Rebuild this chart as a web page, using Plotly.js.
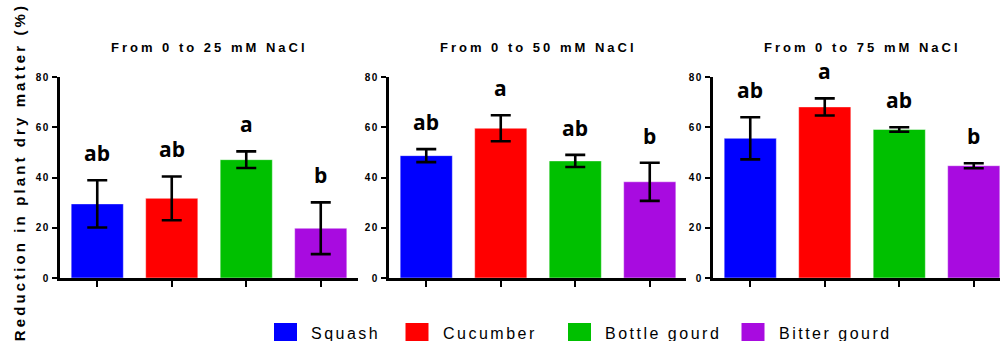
<!DOCTYPE html>
<html>
<head>
<meta charset="utf-8">
<script src="https://cdn.plot.ly/plotly-3.0.1.min.js"></script>
<style>
  html, body { margin: 0; padding: 0; background: #fff; }
  #chart { width: 1000px; height: 341px; }
  .yaxislayer-above text { letter-spacing: 1.6px; font-weight: bold !important; }
</style>
</head>
<body>
<div id="chart"></div>
<script>
// Crops and their colours
const categories = ['Squash', 'Cucumber', 'Bottle gourd', 'Bitter gourd'];
const barColors = ['#0000FF', '#FF0000', '#00C000', '#A80BE0'];

// Panel headings
const panelTitles = ['From 0 to 25 mM NaCl', 'From 0 to 50 mM NaCl', 'From 0 to 75 mM NaCl'];

// Mean reduction in plant dry matter (%) and its error, per NaCl step
const reduction25 = [29.5, 31.7, 47.1, 19.8];
const error25 = [9.4, 8.7, 3.3, 10.3];
const reduction50 = [48.7, 59.6, 46.6, 38.3];
const error50 = [2.6, 5.2, 2.4, 7.6];
const reduction75 = [55.6, 68.1, 59.1, 44.7];
const error75 = [8.4, 3.4, 0.9, 1.0];

// Significance groups
const letters25 = ['ab', 'ab', 'a', 'b'];
const letters50 = ['ab', 'a', 'ab', 'b'];
const letters75 = ['ab', 'a', 'ab', 'b'];

// Axis ticks
const yTicks = [0, 20, 40, 60, 80];
const yTitle = 'Reduction in plant dry matter (%)';

const panels = [
  { values: reduction25, errors: error25, letters: letters25 },
  { values: reduction50, errors: error50, letters: letters50 },
  { values: reduction75, errors: error75, letters: letters75 }
];

// ---- layout geometry (pixels of a 1000 x 341 figure) ----
const W = 1000, H = 341;
const plotTop = 77, plotBottom = 278;
const xDomainsPx = [[60, 358], [389, 686], [713, 1000]];
const catStep = (xDomainsPx[0][1] - xDomainsPx[0][0]) / 4;
const px = v => v / W;
const py = v => (H - v) / H;

const boldFont = 'Liberation Sans, Arial, sans-serif';
const traces = [];
const annotations = [];
const spacing = [];   // letter spacing per annotation, applied after drawing
const leftAlign = []; // left-anchored annotations need a shift to keep their start edge

const layout = {
  width: W, height: H,
  margin: { l: 0, r: 0, t: 0, b: 0 },
  paper_bgcolor: '#fff', plot_bgcolor: '#fff',
  showlegend: false,
  shapes: [],
  annotations: annotations
};

function addNote(note, s, left) {
  annotations.push(note);
  spacing.push(s);
  leftAlign.push(!!left);
}

panels.forEach((p, i) => {
  const sfx = i === 0 ? '' : String(i + 1);
  const xa = 'x' + sfx, ya = 'y' + sfx;
  traces.push({
    type: 'bar',
    x: categories,
    y: p.values,
    xaxis: xa, yaxis: ya,
    marker: { color: barColors, line: { color: 'rgba(255,255,255,0.45)', width: 1 } },
    width: 0.7,
    error_y: { type: 'data', array: p.errors, visible: true, color: '#000', thickness: 2.6, width: 10 },
    hoverinfo: 'x+y'
  });

  const [d0, d1] = xDomainsPx[i];
  const rangeEnd = (d1 - d0) / catStep - 0.5;
  layout['xaxis' + sfx] = {
    domain: [px(d0), px(d1)],
    anchor: ya,
    type: 'category',
    range: [-0.5, rangeEnd],
    showline: true, linecolor: '#000', linewidth: 3,
    ticks: 'outside', ticklen: 6, tickwidth: 2, tickcolor: '#000',
    showticklabels: false,
    showgrid: false, zeroline: false, fixedrange: true
  };
  layout['yaxis' + sfx] = {
    domain: [py(plotBottom), py(plotTop)],
    anchor: xa,
    range: [0, 80],
    tickvals: yTicks,
    ticktext: yTicks.map(String),
    showline: true, linecolor: '#000', linewidth: 3,
    ticks: 'outside', ticklen: 5, tickwidth: 2, tickcolor: '#000',
    tickfont: { family: boldFont, size: 10, color: '#000', weight: 'bold' },
    showgrid: false, zeroline: false, fixedrange: true
  };

  // significance letters above each error bar
  p.letters.forEach((t, k) => {
    addNote({
      xref: xa, yref: ya,
      x: categories[k], y: p.values[k] + p.errors[k],
      text: t, showarrow: false,
      xanchor: 'center', yanchor: 'bottom', yshift: 11,
      font: { family: 'Open Sans, sans-serif', size: 21, color: '#000', weight: 'bold' }
    }, 0);
  });

  // panel heading, centred over a full-width panel
  addNote({
    xref: 'paper', yref: 'paper',
    x: px(d0 + 2 * catStep), y: py(48),
    text: panelTitles[i], showarrow: false,
    xanchor: 'center', yanchor: 'middle',
    font: { family: boldFont, size: 13, color: '#000', weight: 'bold' }
  }, 3.0);
});

// shared y title
addNote({
  xref: 'paper', yref: 'paper',
  x: px(19), y: py(172),
  text: yTitle, textangle: -90, showarrow: false,
  xanchor: 'center', yanchor: 'middle',
  font: { family: boldFont, size: 15, color: '#000', weight: 'bold' }
}, 3.1);

// legend row
const legendX = [274, 405.5, 568, 741.5];
categories.forEach((c, k) => {
  layout.shapes.push({
    type: 'rect', xref: 'paper', yref: 'paper',
    x0: px(legendX[k]), x1: px(legendX[k] + 23),
    y0: py(344), y1: py(323),
    fillcolor: barColors[k], line: { width: 0 }
  });
  addNote({
    xref: 'paper', yref: 'paper',
    x: px(legendX[k] + 35), y: py(333),
    text: c, showarrow: false,
    xanchor: 'left', yanchor: 'middle',
    font: { family: 'Liberation Sans, Arial, sans-serif', size: 16, color: '#000' }
  }, 2.5, true);
});

Plotly.newPlot('chart', traces, layout, { displayModeBar: false, staticPlot: true }).then(gd => {
  gd.querySelectorAll('.annotation').forEach(a => {
    const idx = +a.getAttribute('data-index');
    const s = spacing[idx];
    if (!s) return;
    a.querySelectorAll('text').forEach(t => {
      t.style.letterSpacing = s + 'px';
      if (leftAlign[idx]) {
        // spacing widens the text around its middle; move it so it still starts at the anchor
        const extra = t.textContent.length * s / 2;
        const x0 = parseFloat(t.getAttribute('x')) || 0;
        t.setAttribute('x', x0 + extra);
      }
    });
  });
});
</script>
</body>
</html>
